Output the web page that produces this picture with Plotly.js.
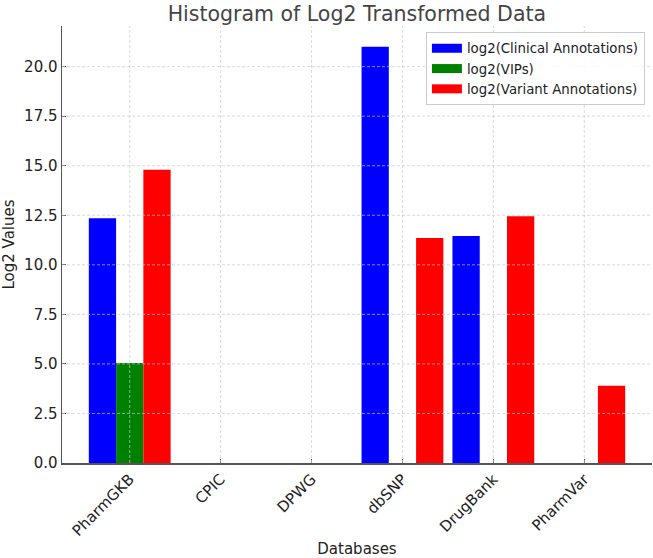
<!DOCTYPE html>
<html>
<head>
<meta charset="utf-8">
<script src="https://cdn.plot.ly/plotly-3.0.1.min.js"></script>
<style>html,body{margin:0;padding:0;background:#fff;}#chart{width:653px;height:558px;}</style>
</head>
<body>
<div id="chart"></div>
<script>
const categories = ["PharmGKB", "CPIC", "DPWG", "dbSNP", "DrugBank", "PharmVar"];
const clinicalLog2 = [12.35, 0, 0, 21.0, 11.45, 0];
const vipsLog2 = [5.05, 0, 0, 0, 0, 0];
const variantLog2 = [14.8, 0, 0, 11.35, 12.45, 3.9];
const seriesNames = ["log2(Clinical Annotations)", "log2(VIPs)", "log2(Variant Annotations)"];
const seriesColors = ["#0000ff", "#008000", "#ff0000"];
const yTicks = [0, 2.5, 5, 7.5, 10, 12.5, 15, 17.5, 20];

const font = "DejaVu Sans, sans-serif";
const seriesValues = [clinicalLog2, vipsLog2, variantLog2];

const traces = seriesValues.map((vals, i) => ({
  type: "bar", x: categories, y: vals, name: seriesNames[i],
  marker: {color: seriesColors[i]}, showlegend: false
}));
// legend entries drawn as wide patches (no marks plotted)
seriesNames.forEach((n, i) => traces.push({
  type: "scatter", mode: "lines", x: [null], y: [null], name: n,
  line: {color: seriesColors[i], width: 9}, showlegend: true, hoverinfo: "skip"
}));

const gridStyle = {color: "rgba(200,200,200,0.85)", width: 0.8, dash: "3px,2px"};
const shapes = [];
categories.forEach(c => shapes.push({type: "line", xref: "x", yref: "paper", x0: c, x1: c, y0: 0, y1: 1, line: gridStyle, layer: "above"}));
yTicks.forEach(t => { if (t > 0) shapes.push({type: "line", xref: "paper", yref: "y", x0: 0, x1: 1, y0: t, y1: t, line: gridStyle, layer: "above"}); });

const layout = {
  width: 653, height: 558,
  margin: {l: 62, r: 1, t: 26, b: 95},
  paper_bgcolor: "#fff", plot_bgcolor: "#fff",
  font: {family: font, color: "#222", size: 15},
  barmode: "group", bargap: 0.1, bargroupgap: 0,
  title: {text: "Histogram of Log2 Transformed Data", font: {size: 20.5, color: "#444", family: font}, x: 0.5465, xanchor: "center", y: 0.976, yanchor: "middle"},
  xaxis: {
    type: "category", range: [-0.745, 5.745],
    tickangle: -45, ticks: "inside", ticklen: 4, tickcolor: "#555",
    showline: true, linecolor: "#555", linewidth: 1.5,
    showgrid: false,
    tickfont: {size: 15, color: "#222"},
    title: {text: "Databases", font: {size: 15, color: "#222"}, standoff: 14},
    layer: "above traces", zeroline: false
  },
  yaxis: {
    range: [0, 22.05], tickvals: yTicks, tickformat: ".1f",
    ticks: "inside", ticklen: 4, tickcolor: "#555",
    showline: true, linecolor: "#555", linewidth: 1.5,
    showgrid: false,
    tickfont: {size: 15, color: "#222"},
    title: {text: "Log2 Values", font: {size: 15, color: "#222"}, standoff: 7},
    layer: "above traces", zeroline: false
  },
  shapes: shapes,
  legend: {
    x: 0.988, xanchor: "right", y: 0.986, yanchor: "top",
    bgcolor: "rgba(255,255,255,0.85)", bordercolor: "#cccccc", borderwidth: 1,
    font: {size: 13.3, color: "#222"}, tracegroupgap: 0, itemwidth: 30
  },
  showlegend: true
};
Plotly.newPlot("chart", traces, layout, {displayModeBar: false, staticPlot: true});
</script>
</body>
</html>
